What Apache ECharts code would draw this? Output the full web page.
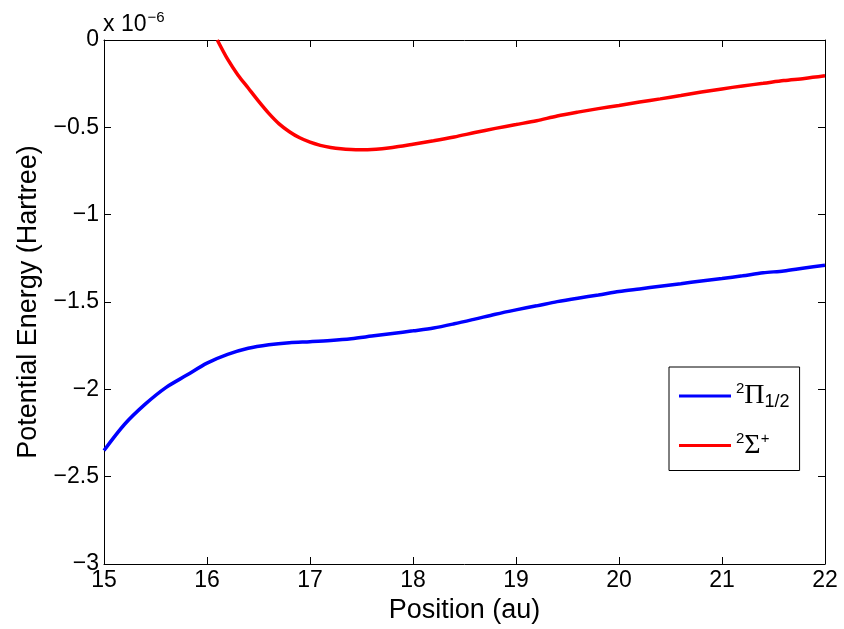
<!DOCTYPE html>
<html>
<head>
<meta charset="utf-8">
<title>Potential Energy</title>
<script src="https://cdn.jsdelivr.net/npm/echarts@6/dist/echarts.min.js"></script>
<style>
  html, body { margin: 0; padding: 0; background: #fff; }
  #chart { width: 844px; height: 629px; }
</style>
</head>
<body>
<div id="chart"></div>
<script>
// Energies are given in units of 1e-6 Hartree.
const positionPi = [15.0, 15.2, 15.4, 15.6, 15.8, 16.0, 16.2, 16.4, 16.6, 16.8, 17.0, 17.2, 17.4, 17.6, 17.8, 18.0,
  18.2, 18.4, 18.6, 18.8, 19.0, 19.2, 19.4, 19.6, 19.8, 20.0, 20.2, 20.4, 20.6, 20.8, 21.0, 21.2, 21.4, 21.6, 21.8, 22.0];
const energyPi = [-2.35, -2.20, -2.085, -1.99, -1.92, -1.85, -1.80, -1.765, -1.745, -1.733, -1.727, -1.720, -1.710,
  -1.695, -1.680, -1.665, -1.649, -1.625, -1.598, -1.570, -1.545, -1.522, -1.498, -1.478, -1.460, -1.440, -1.425,
  -1.410, -1.395, -1.380, -1.366, -1.350, -1.333, -1.322, -1.305, -1.29];

const positionSigma = [16.1, 16.2, 16.3, 16.4, 16.5, 16.6, 16.7, 16.8, 16.9, 17.0, 17.1, 17.2, 17.3, 17.4, 17.5, 17.6,
  17.7, 17.8, 17.9, 18.0, 18.2, 18.4, 18.6, 18.8, 19.0, 19.2, 19.4, 19.6, 19.8, 20.0, 20.2, 20.4, 20.6, 20.8, 21.0,
  21.2, 21.4, 21.6, 21.8, 22.0];
const energySigma = [0.0, -0.11, -0.20, -0.275, -0.35, -0.42, -0.48, -0.525, -0.56, -0.585, -0.603, -0.615, -0.623,
  -0.627, -0.628, -0.627, -0.622, -0.615, -0.607, -0.597, -0.577, -0.555, -0.53, -0.506, -0.484, -0.462, -0.435,
  -0.413, -0.393, -0.375, -0.355, -0.337, -0.318, -0.298, -0.280, -0.263, -0.248, -0.232, -0.22, -0.205];

const seriesNames = ['Pi12', 'SigmaPlus'];
const xRange = [15, 22];
const yRange = [-3, 0];

const pairs = (xs, ys) => xs.map((x, i) => [x, ys[i]]);
const font = '"Liberation Sans", Arial, Helvetica, sans-serif';
const serif = '"Liberation Serif", "DejaVu Serif", serif';

const chart = echarts.init(document.getElementById('chart'), null, { renderer: 'canvas' });

const axisLine = { show: true, onZero: false, lineStyle: { color: '#000', width: 1 } };
const tick = { show: true, inside: true, length: 7, lineStyle: { color: '#000', width: 1 } };

chart.setOption({
  animation: false,
  backgroundColor: '#fff',
  grid: { left: 104, top: 40, width: 721, height: 526, show: false },
  xAxis: [{
    type: 'value', min: xRange[0], max: xRange[1], interval: 1,
    name: 'Position (au)', nameLocation: 'middle', nameGap: 33,
    nameTextStyle: { fontFamily: font, fontSize: 27, color: '#000' },
    axisLine: axisLine, axisTick: tick, splitLine: { show: false },
    axisLabel: { fontFamily: font, fontSize: 23, color: '#000', margin: 5 }
  }, {
    type: 'value', position: 'top', min: xRange[0], max: xRange[1], interval: 1,
    axisLine: axisLine, axisTick: tick, splitLine: { show: false }, axisLabel: { show: false }
  }],
  yAxis: [{
    type: 'value', min: yRange[0], max: yRange[1], interval: 0.5,
    name: 'Potential Energy (Hartree)', nameLocation: 'middle', nameGap: 62,
    nameTextStyle: { fontFamily: font, fontSize: 27, color: '#000' },
    axisLine: axisLine, axisTick: tick, splitLine: { show: false },
    axisLabel: {
      fontFamily: font, fontSize: 23, color: '#000', margin: 5,
      formatter: v => v === 0 ? '0' : (v < 0 ? '\u2212' : '') + Math.abs(v)
    }
  }, {
    type: 'value', position: 'right', min: yRange[0], max: yRange[1], interval: 0.5,
    axisLine: axisLine, axisTick: tick, splitLine: { show: false }, axisLabel: { show: false }
  }],
  legend: {
    orient: 'vertical',
    left: 669, top: 367,
    padding: [14, 10, 11, 10],
    itemGap: 20,
    itemWidth: 52, itemHeight: 3,
    icon: 'rect',
    backgroundColor: '#fff',
    borderColor: '#000', borderWidth: 1, borderRadius: 0,
    data: seriesNames,
    formatter: name => name === 'Pi12'
      ? '{sup|2}{g|\u03A0}{sub|1/2}'
      : '{sup|2}{g|\u03A3}{sup|+}',
    textStyle: {
      color: '#000',
      rich: {
        sup: { fontFamily: font, fontSize: 15, color: '#000', verticalAlign: 'top', padding: [0, 0, 14, 0] },
        g: { fontFamily: serif, fontSize: 28, color: '#000' },
        sub: { fontFamily: font, fontSize: 18, color: '#000', verticalAlign: 'bottom', padding: [12, 0, 0, 0] }
      }
    }
  },
  graphic: [{
    type: 'text', left: 103, top: 10,
    style: {
      text: '{b|x 10}{s|\u22126}',
      rich: {
        b: { fontFamily: font, fontSize: 23, fill: '#000' },
        s: { fontFamily: font, fontSize: 15, fill: '#000', verticalAlign: 'top', padding: [0, 0, 14, 1] }
      }
    }
  }],
  series: [{
    name: seriesNames[0], type: 'line', smooth: 0.3, showSymbol: false,
    data: pairs(positionPi, energyPi),
    lineStyle: { color: '#0000ff', width: 3.5 }, itemStyle: { color: '#0000ff' }
  }, {
    name: seriesNames[1], type: 'line', smooth: 0.3, showSymbol: false,
    data: pairs(positionSigma, energySigma),
    lineStyle: { color: '#ff0000', width: 3.5 }, itemStyle: { color: '#ff0000' }
  }]
});
</script>
</body>
</html>
